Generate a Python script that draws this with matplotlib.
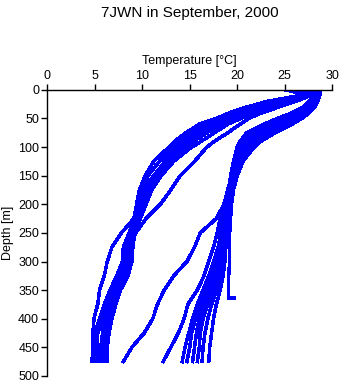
import numpy as np
import matplotlib
matplotlib.use("Agg")
from matplotlib import pyplot as plt

plt.rcParams['font.family'] = ['Liberation Sans', 'DejaVu Sans']

# depth levels [m] shared by the full-length casts
depth = [0, 5, 10, 20, 30, 40, 50, 60, 75, 90, 100, 125, 150, 175, 200,
         225, 250, 275, 300, 325, 350, 375, 400, 425, 450, 475]

# cold casts (sharp shallow thermocline)
temp_a = [27.8, 27.6, 26.5, 23.2, 21.0, 19.2, 17.8, 16.0, 14.6, 13.4, 12.8, 11.2, 10.3, 9.7, 9.4,
          9.1, 7.8, 6.8, 6.3, 6.0, 5.5, 5.3, 4.9, 4.8, 4.8, 4.7]
temp_b = [25.0, 26.5, 27.0, 23.8, 21.5, 19.6, 18.2, 16.6, 15.0, 13.8, 13.2, 11.8, 10.6, 10.0, 9.5,
          9.2, 8.6, 8.0, 7.9, 7.3, 6.6, 6.0, 5.5, 5.0, 4.9, 5.0]
temp_c = [27.5, 27.4, 26.6, 24.0, 22.0, 20.0, 18.6, 17.2, 15.6, 14.3, 13.7, 12.4, 11.2, 10.2, 9.8,
          9.4, 8.8, 8.4, 8.1, 7.6, 6.9, 6.3, 5.8, 5.3, 5.2, 5.2]
temp_d = [28.2, 28.0, 27.0, 24.5, 22.5, 20.6, 19.2, 17.8, 16.2, 14.9, 14.1, 12.6, 11.5, 10.6, 10.0,
          9.5, 9.0, 8.7, 8.4, 7.9, 7.2, 6.7, 6.1, 5.8, 5.7, 5.8]
temp_e = [27.9, 27.8, 27.2, 25.0, 23.0, 21.2, 19.8, 18.4, 16.8, 15.4, 14.6, 12.8, 11.8, 10.8, 10.2,
          9.6, 9.1, 8.9, 8.6, 8.2, 7.5, 7.0, 6.5, 6.2, 6.0, 6.1]
temp_f = [28.0, 28.0, 27.7, 26.2, 24.4, 22.6, 21.2, 20.3, 19.0, 17.6, 16.8, 15.5, 14.0, 13.0, 11.9,
          10.4, 9.3, 8.8, 8.5, 8.0, 7.4, 6.8, 6.3, 5.9, 5.6, 5.5]
temp_g = [26.0, 27.4, 27.5, 25.5, 23.5, 21.8, 20.4, 19.0, 17.6, 16.2, 15.2, 13.3, 12.0, 11.0, 10.4,
          9.8, 9.2, 9.0, 8.9, 8.5, 7.7, 7.2, 6.8, 6.5, 6.3, 6.3]

# warm casts (deep mixed layer, thick 19 degree water)
temp_r1 = [28.4, 28.4, 28.3, 28.0, 27.5, 26.5, 25.0, 23.5, 21.5, 20.6, 20.3, 19.9, 19.5, 19.2, 18.9,
           18.6, 18.3, 18.0, 17.5, 17.0, 16.4, 15.8, 15.3, 14.9, 14.5, 14.2]
temp_r2 = [28.2, 28.2, 28.2, 27.8, 27.0, 25.8, 24.2, 22.8, 21.0, 20.3, 20.0, 19.6, 19.3, 19.1, 18.8,
           18.6, 18.4, 18.1, 17.7, 17.3, 16.8, 16.2, 15.6, 15.2, 15.0, 14.7]
temp_r3 = [28.6, 28.6, 28.5, 28.2, 27.8, 27.0, 26.0, 24.5, 22.5, 21.2, 20.8, 20.0, 19.6, 19.3, 19.0,
           18.8, 18.5, 18.3, 18.0, 17.6, 17.1, 16.5, 16.0, 15.7, 15.5, 15.3]
temp_r4 = [28.0, 28.0, 27.9, 27.6, 27.0, 26.2, 25.2, 24.0, 22.0, 20.9, 20.4, 19.8, 19.5, 19.2, 19.0,
           18.8, 18.6, 18.4, 18.2, 17.8, 17.4, 16.9, 16.4, 16.1, 16.0, 15.8]
temp_r5 = [28.8, 28.8, 28.7, 28.5, 28.2, 27.6, 26.8, 25.8, 24.0, 22.5, 21.8, 20.6, 20.0, 19.6, 19.3,
           19.1, 18.9, 18.7, 18.5, 18.2, 17.8, 17.3, 16.9, 16.6, 16.4, 16.3]
temp_r6 = [28.5, 28.5, 28.4, 28.2, 27.8, 27.2, 26.4, 25.4, 23.5, 22.0, 21.3, 20.4, 19.8, 19.5, 19.2,
           19.0, 18.9, 18.8, 18.7, 18.5, 18.2, 17.8, 17.5, 17.3, 17.1, 17.0]
temp_m1 = [28.1, 28.1, 28.0, 27.7, 27.2, 26.0, 24.6, 23.0, 21.3, 20.5, 20.1, 19.7, 19.4, 19.0, 18.6,
           17.8, 16.1, 15.5, 14.7, 13.3, 12.3, 11.6, 11.1, 10.2, 8.9, 8.0]
temp_m2 = [28.3, 28.3, 28.1, 27.9, 27.4, 26.6, 25.5, 24.2, 22.3, 21.0, 20.6, 19.9, 19.5, 19.1, 18.7,
           18.2, 17.9, 17.5, 17.0, 16.5, 15.8, 14.8, 14.4, 13.8, 13.0, 12.2]

# one short cast that stops at 364 m
depth_s = [0, 5, 10, 20, 30, 40, 50, 60, 75, 90, 100, 125, 150, 175, 200,
           225, 250, 275, 300, 325, 350, 364, 364]
temp_s = [28.3, 28.3, 28.2, 28.0, 27.6, 27.0, 26.0, 25.0, 23.2, 21.8, 21.2, 20.3, 19.8, 19.6, 19.4,
          19.3, 19.2, 19.2, 19.2, 19.1, 19.1, 19.1, 19.7]

casts = [temp_a, temp_b, temp_c, temp_d, temp_e, temp_f, temp_g,
         temp_r1, temp_r2, temp_r3, temp_r4, temp_r5, temp_r6, temp_m1, temp_m2]

x_ticks = [0, 5, 10, 15, 20, 25, 30]
y_ticks = [0, 50, 100, 150, 200, 250, 300, 350, 400, 450, 500]

fig = plt.figure(figsize=(3.41, 3.84), dpi=100)
ax = fig.add_axes([0.139, 0.021, 0.835, 0.745])

for t in casts:
    ax.plot(t, depth, color='#0000ff', lw=1.8, antialiased=False)
ax.plot(temp_s, depth_s, color='#0000ff', lw=1.8, antialiased=False)

ax.set_xlim(0, 30)
ax.set_ylim(500, 0)
ax.xaxis.tick_top()
ax.xaxis.set_label_position('top')
ax.set_xticks(x_ticks)
ax.set_yticks(y_ticks)
ax.tick_params(length=4, width=1, labelsize=9, pad=2)
ax.set_xlabel('Temperature [°C]', fontsize=9, labelpad=4)
ax.set_ylabel('Depth [m]', fontsize=9, labelpad=3)
for s in ['right', 'bottom']:
    ax.spines[s].set_visible(False)
for s in ['top', 'left']:
    ax.spines[s].set_linewidth(1)

fig.text(0.557, 0.965, '7JWN in September, 2000', ha='center', va='center', fontsize=11)

fig.savefig('out.png', dpi=100)
